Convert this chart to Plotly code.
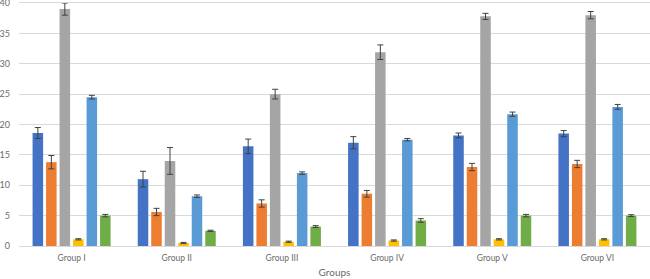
import plotly.graph_objects as go

groups = ["Group I", "Group II", "Group III", "Group IV", "Group V", "Group VI"]
series_names = ["Series 1", "Series 2", "Series 3", "Series 4", "Series 5", "Series 6"]
s1 = [18.6, 11.0, 16.4, 17.0, 18.2, 18.5]
s2 = [13.8, 5.6, 7.0, 8.6, 13.0, 13.5]
s3 = [39.0, 14.0, 25.0, 31.9, 37.8, 38.0]
s4 = [1.1, 0.5, 0.7, 0.9, 1.1, 1.1]
s5 = [24.5, 8.2, 12.0, 17.5, 21.7, 22.9]
s6 = [5.0, 2.5, 3.2, 4.2, 5.0, 5.0]
e1 = [0.9, 1.3, 1.2, 1.0, 0.4, 0.5]
e2 = [1.1, 0.6, 0.6, 0.55, 0.6, 0.6]
e3 = [1.0, 2.2, 0.8, 1.2, 0.5, 0.6]
e4 = [0.1, 0.1, 0.1, 0.1, 0.1, 0.1]
e5 = [0.3, 0.2, 0.2, 0.2, 0.35, 0.4]
e6 = [0.2, 0.1, 0.15, 0.3, 0.2, 0.15]
colors = ["#4472C4", "#ED7D31", "#A5A5A5", "#FFC000", "#5B9BD5", "#70AD47"]

fig = go.Figure()
for name, vals, errs, col in zip(series_names, [s1, s2, s3, s4, s5, s6],
                                 [e1, e2, e3, e4, e5, e6], colors):
    fig.add_trace(go.Bar(
        x=groups, y=vals, name=name, marker_color=col, marker_line_width=0,
        error_y=dict(type="data", array=errs, visible=True, color="#404040",
                     thickness=1, width=3),
    ))

fig.update_layout(
    width=650, height=279,
    margin=dict(l=19, r=0, t=3, b=33, autoexpand=False),
    barmode="group", bargap=0.23, bargroupgap=0.22,
    showlegend=False,
    plot_bgcolor="white", paper_bgcolor="white",
    font=dict(family="Lato, Open Sans, sans-serif", color="#6b6b6b", size=9),
)
fig.update_xaxes(
    showgrid=False, showline=True, mirror=True, linecolor="#D9D9D9", linewidth=1,
    ticks="", tickfont=dict(size=8.5), ticklabelstandoff=4, automargin=False,
    title=dict(text="Groups", font=dict(size=10), standoff=6),
)
fig.update_yaxes(
    range=[0, 40], dtick=5, showgrid=True, gridcolor="#D9D9D9", gridwidth=1,
    zeroline=False, ticks="", tickfont=dict(size=9), ticklabelstandoff=8,
    automargin=False, ticklabeloverflow="allow",
)
fig.write_html("out.html", config={"displayModeBar": False},
               post_script="document.body.style.margin='0';document.body.style.overflow='hidden';")
